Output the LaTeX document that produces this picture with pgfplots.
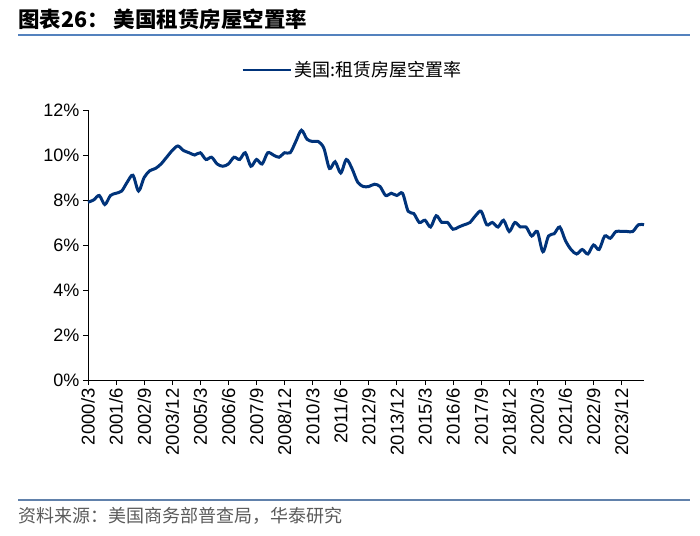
\documentclass[border=0pt]{standalone}
\usepackage{pgfplots}
\pgfplotsset{compat=1.18}
\usepackage{fontspec}
\setmainfont{Liberation Sans}
\newfontfamily\cjk{Noto Sans CJK SC}
\definecolor{lineblue}{RGB}{0,51,122}
\definecolor{rule}{RGB}{84,130,190}
\definecolor{srcgray}{RGB}{90,90,90}

\pgfplotstableread{
q v
0 7.9
1 8.0
2 8.2
3 7.8
4 8.2
5 8.3
6 8.4
7 8.8
8 9.1
9 8.4
10 9.0
11 9.3
12 9.4
13 9.6
14 9.9
15 10.2
16 10.4
17 10.2
18 10.1
19 10.0
20 10.1
21 9.8
22 9.9
23 9.6
24 9.5
25 9.6
26 9.9
27 9.8
28 10.1
29 9.5
30 9.8
31 9.6
32 10.1
33 10.0
34 9.9
35 10.1
36 10.1
37 10.6
38 11.1
39 10.7
40 10.6
41 10.6
42 10.3
43 9.4
44 9.7
45 9.2
46 9.8
47 9.4
48 8.8
49 8.6
50 8.6
51 8.7
52 8.6
53 8.2
54 8.3
55 8.2
56 8.3
57 7.5
58 7.4
59 7.0
60 7.1
61 6.8
62 7.3
63 7.0
64 7.0
65 6.7
66 6.8
67 6.9
68 7.0
69 7.3
70 7.5
71 6.9
72 7.0
73 6.8
74 7.1
75 6.6
76 7.0
77 6.8
78 6.8
79 6.4
80 6.6
81 5.7
82 6.4
83 6.5
84 6.8
85 6.2
86 5.8
87 5.6
88 5.8
89 5.6
90 6.0
91 5.8
92 6.4
93 6.3
94 6.6
95 6.6
96 6.6
97 6.6
98 6.9
99 6.9
}\rentvac

\begin{document}
\begin{tikzpicture}
\path[use as bounding box] (0pt,0pt) rectangle (700pt,535pt);
% header and footer
\node[anchor=base west, inner sep=0pt, font=\cjk\bfseries\fontsize{21.5}{24}\selectfont] at (18pt,507pt) {图表26：\ 美国租赁房屋空置率};
\draw[rule, line width=1.2pt] (18pt,500pt) -- (690pt,500pt);
\draw[rule!70!gray, line width=1.2pt] (18pt,35pt) -- (690pt,35pt);
\node[anchor=west, inner sep=0pt, text=srcgray, font=\cjk\fontsize{18}{20}\selectfont] at (18pt,19pt) {资料来源：美国商务部普查局，华泰研究};

\begin{axis}[
    at={(88pt,155pt)}, anchor=south west,
    scale only axis,
    width=556pt, height=270pt,
    xmin=0, xmax=99,
    ymin=0, ymax=12,
    ytick={0,2,...,12},
    yticklabel={\pgfmathprintnumber{\tick}\%},
    xtick={0,5,...,95},
    xticklabels={2000/3,2001/6,2002/9,2003/12,2005/3,2006/6,2007/9,2008/12,2010/3,2011/6,2012/9,2013/12,2015/3,2016/6,2017/9,2018/12,2020/3,2021/6,2022/9,2023/12},
    xticklabel style={rotate=90, anchor=east, font=\fontsize{18.5}{20}\selectfont},
    yticklabel style={font=\fontsize{18}{20}\selectfont},
    /pgf/number format/assume math mode=true,
    axis x line*=bottom, axis y line*=left,
    axis line style={black, line width=0.9pt, -},
    tick align=outside,
    major tick length=5pt,
    tick style={black, line width=0.9pt},
    legend style={draw=none, fill=none, at={(axis description cs:0.475,1.148)}, anchor=center,
        font=\cjk\fontsize{18}{20}\selectfont, inner sep=0pt},
    legend image code/.code={\draw[#1, line width=2.8pt] (0pt,0pt) -- (48pt,0pt);},
    clip=false,
]
\addplot[lineblue, line width=3pt, smooth, tension=0.5] table[x=q, y=v] {\rentvac};
\addlegendentry{美国:租赁房屋空置率}
\end{axis}
\end{tikzpicture}
\end{document}
